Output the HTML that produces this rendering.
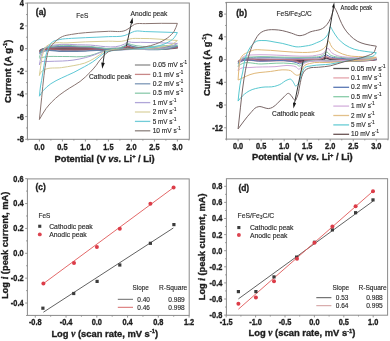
<!DOCTYPE html>
<html><head><meta charset="utf-8"><title>Cyclic voltammetry figure</title>
<style>html,body{margin:0;padding:0;background:#fff;width:390px;height:341px;overflow:hidden}svg{display:block;font-family:"Liberation Sans",sans-serif}text{filter:grayscale(1)}</style>
</head><body>
<svg width="390" height="341" viewBox="0 0 390 341">
<rect width="390" height="341" fill="#fff"/>
<path d="M39.4,50.83C40.17,50.37 40.89,49.82 41.7,49.47C43.11,48.85 44.76,48.77 46.3,48.56C48.58,48.25 50.9,48.31 53.2,48.22C63.92,47.78 74.67,48.23 85.4,48.22C98.43,48.2 111.92,51.37 124.5,48.11C125.58,47.83 126.64,47.26 127.72,47.2C128.93,47.13 130.17,47.67 131.4,47.88C146.5,50.46 162.07,47.88 177.4,47.88C174.33,48.18 171.27,48.54 168.2,48.79C155.98,49.76 143.67,48.95 131.4,49.01C122.97,49.06 114.42,47.83 106.1,49.13C105.02,49.29 103.96,49.64 102.88,49.69C101.66,49.75 100.43,49.44 99.2,49.35C94.62,49.03 90,49.44 85.4,49.47C77.73,49.51 70.07,49.38 62.4,49.47C55.5,49.55 48.17,47.64 41.7,49.92C40.93,50.19 40.17,50.53 39.4,50.83" fill="none" stroke="#5e5a5e" stroke-width="1.35" stroke-linejoin="round"/>
<path d="M39.4,51.96C40.17,51.21 40.83,50.27 41.7,49.69C43,48.84 44.74,48.64 46.3,48.33C48.55,47.89 50.9,48 53.2,47.88C63.91,47.3 74.67,47.91 85.4,47.88C98.43,47.85 112.41,52.32 124.5,47.65C125.58,47.24 126.63,46.37 127.72,46.29C128.92,46.21 130.17,47.08 131.4,47.43C146.11,51.59 162.07,47.43 177.4,47.43C174.33,47.8 171.27,48.25 168.2,48.56C156.01,49.79 143.67,48.85 131.4,49.01C122.97,49.12 114.25,47.32 106.1,49.35C105.02,49.62 103.97,50.18 102.88,50.26C101.67,50.35 100.43,49.84 99.2,49.69C94.64,49.16 90,49.87 85.4,49.92C77.73,50.01 70.07,49.91 62.4,50.03C55.5,50.15 47.75,47.47 41.7,50.6C40.92,51.01 40.17,51.51 39.4,51.96" fill="none" stroke="#a85c68" stroke-width="1.35" stroke-linejoin="round"/>
<path d="M39.4,53.66C40.17,52.53 40.75,51.19 41.7,50.26C42.93,49.06 44.67,48.23 46.3,47.65C48.44,46.89 50.9,47.08 53.2,46.86C63.88,45.85 74.67,46.9 85.4,46.86C98.43,46.81 113,52.37 124.5,46.52C125.59,45.97 126.61,44.81 127.72,44.7C128.9,44.59 130.17,45.65 131.4,46.07C145.86,50.97 162.07,46.22 177.4,46.29C174.33,47.05 171.29,47.95 168.2,48.56C156.22,50.93 143.67,48.89 131.4,49.13C122.97,49.29 113.95,46.79 106.1,49.69C105.02,50.1 103.99,50.92 102.88,51.05C101.69,51.2 100.43,50.54 99.2,50.37C94.66,49.76 90,50.9 85.4,51.05C77.74,51.32 70.06,51.11 62.4,51.28C55.5,51.43 47.41,48.33 41.7,51.96C40.91,52.46 40.17,53.1 39.4,53.66" fill="none" stroke="#6884aa" stroke-width="1.35" stroke-linejoin="round"/>
<path d="M39.4,57.63C39.86,56.12 40.11,54.51 40.78,53.1C41.57,51.44 42.62,49.64 44,48.56C45.79,47.16 48.58,47.08 50.9,46.52C62.01,43.81 73.9,46.41 85.4,46.29C98.43,46.16 113.63,52.56 124.5,45.73C125.6,45.04 126.55,43.64 127.72,43.46C128.86,43.28 130.17,44.24 131.4,44.59C146.11,48.77 162.07,44.97 177.4,45.16C174.33,46.1 171.3,47.22 168.2,47.99C156.36,50.94 143.66,48.61 131.4,49.13C123.73,49.45 115.98,49.11 108.4,50.26C106.86,50.49 105.31,50.69 103.8,51.05C102.24,51.44 100.73,52.03 99.2,52.53C96.13,53.53 93.11,54.81 90,55.59C81.14,57.82 71.6,56.21 62.4,56.5C56.27,56.69 49.99,55.86 44,57.06C42.46,57.38 40.93,57.82 39.4,58.2" fill="none" stroke="#80c4a4" stroke-width="1.0" stroke-linejoin="round"/>
<path d="M39.4,65C39.86,62.55 40.15,60.04 40.78,57.63C41.39,55.32 41.82,52.79 43.08,50.83C44.21,49.07 45.84,47.23 47.68,46.29C49.29,45.48 51.35,45.48 53.2,45.16C63.75,43.31 74.67,45.09 85.4,44.93C98.44,44.74 113.21,50.21 124.5,44.02C125.75,43.34 126.84,41.94 128.18,41.76C129.19,41.62 130.32,42.18 131.4,42.32C134.43,42.72 137.53,42.3 140.6,42.32C152.87,42.4 165.13,43.08 177.4,43.46C175.1,44.59 172.89,46.03 170.5,46.86C166.88,48.12 162.85,48.12 159,48.56C149.87,49.6 140.59,49.03 131.4,49.47C123.73,49.83 116.03,49.97 108.4,50.83C106.87,51 105.3,51.05 103.8,51.4C102.5,51.69 101.24,52.19 99.98,52.64C98.16,53.29 96.41,54.13 94.6,54.8C91.59,55.9 88.5,56.82 85.4,57.63C81.32,58.7 77.16,59.55 72.98,60.13C69.48,60.61 65.93,60.81 62.4,61.03C57.27,61.36 52.11,61.05 46.99,61.49C44.92,61.67 42.08,60.85 40.78,62.17C40.12,62.83 39.86,64.06 39.4,65" fill="none" stroke="#ac9ed4" stroke-width="1.0" stroke-linejoin="round"/>
<path d="M39.4,75.55C39.86,72.22 40.25,68.89 40.78,65.57C41.44,61.4 41.66,57.04 43.08,53.1C43.92,50.75 44.59,47.93 46.3,46.29C47.8,44.86 50.22,44.14 52.28,43.46C56.86,41.95 62.1,43.12 67,42.89C73.14,42.61 79.26,42.14 85.4,41.87C93.06,41.53 100.73,41.43 108.4,41.19C114.07,41.01 120.02,42.19 125.42,40.62C126.98,40.17 128.46,39.33 130.02,38.92C133.4,38.04 137.07,38.54 140.6,38.47C152.87,38.21 165.13,39.83 177.4,40.51C175.87,41.68 174.47,43.1 172.8,44.02C170.71,45.18 168.24,45.69 165.9,46.29C162.16,47.25 158.25,47.55 154.4,47.99C146.78,48.87 139.06,48.69 131.4,49.13C123.73,49.56 115.82,48.71 108.4,50.6C106.86,50.99 105.2,51.24 103.8,51.96C102.82,52.47 101.96,53.25 101.04,53.89C98.91,55.36 96.82,56.88 94.6,58.2C91.45,60.07 88.15,61.85 84.71,63.08C81.25,64.31 77.52,64.85 73.9,65.57C69.79,66.39 65.63,66.98 61.48,67.61C55.67,68.5 48.93,67 44,69.99C42.88,70.67 41.56,71.35 40.78,72.37C40.1,73.26 39.86,74.49 39.4,75.55" fill="none" stroke="#d6cc94" stroke-width="1.0" stroke-linejoin="round"/>
<path d="M39.4,96.19C39.78,92.79 40.01,89.36 40.55,85.98C40.85,84.08 41.27,82.2 41.61,80.31C42.49,75.41 43.07,70.46 44,65.57C44.88,60.97 45.31,56.17 46.99,51.85C48.35,48.36 49.52,43.89 52.42,41.87C54.27,40.58 56.98,40.17 59.32,39.6C63.3,38.64 67.5,38.67 71.6,38.35C76.19,38 80.8,37.89 85.4,37.67C93.07,37.31 100.74,37.13 108.4,36.65C113.92,36.31 119.76,37.14 124.96,35.41C126.68,34.83 128.33,33.96 130.02,33.25C131.55,32.6 133.05,31.75 134.62,31.32C137.96,30.42 141.67,31.47 145.2,31.55C155.94,31.81 166.67,32.23 177.4,32.57C176.33,34.31 175.5,36.28 174.18,37.79C172.15,40.11 169.14,41.7 166.36,43.12C162.28,45.21 157.53,46.11 153.02,47.09C145.98,48.61 138.61,48.5 131.4,49.13C125.27,49.66 119.06,49.6 113,50.6C110.69,50.98 108.2,50.97 106.1,51.96C105.3,52.34 104.55,52.84 103.8,53.32C102.34,54.27 101.04,55.44 99.66,56.5C97.2,58.38 94.87,60.45 92.3,62.17C89.87,63.79 87.26,65.16 84.71,66.59C81.15,68.59 77.56,70.56 73.9,72.37C69.83,74.4 65.55,76.02 61.48,78.04C57.9,79.83 54.13,81.41 50.9,83.71C48.07,85.74 45.29,88.06 43.08,90.74C41.7,92.42 40.63,94.37 39.4,96.19" fill="none" stroke="#5ec8d6" stroke-width="1.0" stroke-linejoin="round"/>
<path d="M39.4,119.55C40.17,112.14 40.93,104.73 41.7,97.32C42.46,89.99 43.05,82.63 44,75.32C44.67,70.17 45.25,64.99 46.3,59.9C46.96,56.7 47.26,53.29 48.6,50.37C49.9,47.56 51.94,44.9 54.12,42.66C56.48,40.23 59.34,37.92 62.4,36.54C65.21,35.27 68.51,34.97 71.6,34.39C76.15,33.53 80.79,33.14 85.4,32.68C93.04,31.93 100.73,31.8 108.4,31.32C114.23,30.96 120.75,32.7 125.88,30.19C127.31,29.49 128.66,28.49 130.02,27.58C131.59,26.53 132.97,25.05 134.62,24.29C137.72,22.87 141.67,23.79 145.2,23.61C155.92,23.08 166.67,23.46 177.4,23.39C176.33,25.99 175.68,28.89 174.18,31.21C172.54,33.74 170.14,35.92 167.74,37.79C165.38,39.62 162.64,41.05 159.92,42.32C156.98,43.7 153.85,44.75 150.72,45.61C147.12,46.6 143.37,47.07 139.68,47.65C133.89,48.57 128.01,48.91 122.2,49.69C117.59,50.31 112.26,49.45 108.4,51.74C106.54,52.84 104.91,54.56 103.34,56.16C101.85,57.67 100.49,59.34 99.2,61.03C98.14,62.42 97.26,63.95 96.21,65.34C94.32,67.83 92.17,70.12 90,72.37C86.9,75.59 83.66,78.75 80.11,81.45C76.73,84.01 72.85,85.9 69.3,88.25C65.88,90.52 62.36,92.71 59.18,95.28C54.33,99.21 49.69,103.66 45.98,108.66C43.47,112.04 41.59,115.92 39.4,119.55" fill="none" stroke="#8a7672" stroke-width="1.0" stroke-linejoin="round"/>
<rect x="27.4" y="3" width="161.9" height="136.3" fill="none" stroke="#8a8a8a" stroke-width="1"/>
<path d="M39.4,139.3v2.2M62.4,139.3v2.2M85.4,139.3v2.2M108.4,139.3v2.2M131.4,139.3v2.2M154.4,139.3v2.2M177.4,139.3v2.2" stroke="#8a8a8a" stroke-width="0.9"/>
<path d="M27.9,139.3v1.3M50.9,139.3v1.3M73.9,139.3v1.3M96.9,139.3v1.3M119.9,139.3v1.3M142.9,139.3v1.3M165.9,139.3v1.3M188.9,139.3v1.3" stroke="#8a8a8a" stroke-width="0.9"/>
<path d="M27.4,139.28h-2.2M27.4,116.6h-2.2M27.4,93.92h-2.2M27.4,71.24h-2.2M27.4,48.56h-2.2M27.4,25.88h-2.2M27.4,3.2h-2.2" stroke="#8a8a8a" stroke-width="0.9"/>
<path d="M27.4,127.94h-1.3M27.4,105.26h-1.3M27.4,82.58h-1.3M27.4,59.9h-1.3M27.4,37.22h-1.3M27.4,14.54h-1.3" stroke="#8a8a8a" stroke-width="0.9"/>
<text transform="translate(39.4,149.6) scale(0.87,1)" font-size="8.5" font-weight="bold" stroke="#1e1e1e" stroke-width="0.35" text-anchor="middle" fill="#1e1e1e">0.0</text>
<text transform="translate(62.4,149.6) scale(0.87,1)" font-size="8.5" font-weight="bold" stroke="#1e1e1e" stroke-width="0.35" text-anchor="middle" fill="#1e1e1e">0.5</text>
<text transform="translate(85.4,149.6) scale(0.87,1)" font-size="8.5" font-weight="bold" stroke="#1e1e1e" stroke-width="0.35" text-anchor="middle" fill="#1e1e1e">1.0</text>
<text transform="translate(108.4,149.6) scale(0.87,1)" font-size="8.5" font-weight="bold" stroke="#1e1e1e" stroke-width="0.35" text-anchor="middle" fill="#1e1e1e">1.5</text>
<text transform="translate(131.4,149.6) scale(0.87,1)" font-size="8.5" font-weight="bold" stroke="#1e1e1e" stroke-width="0.35" text-anchor="middle" fill="#1e1e1e">2.0</text>
<text transform="translate(154.4,149.6) scale(0.87,1)" font-size="8.5" font-weight="bold" stroke="#1e1e1e" stroke-width="0.35" text-anchor="middle" fill="#1e1e1e">2.5</text>
<text transform="translate(177.4,149.6) scale(0.87,1)" font-size="8.5" font-weight="bold" stroke="#1e1e1e" stroke-width="0.35" text-anchor="middle" fill="#1e1e1e">3.0</text>
<text transform="translate(23.8,142.18) scale(0.87,1)" font-size="8.5" font-weight="bold" stroke="#1e1e1e" stroke-width="0.35" text-anchor="end" fill="#1e1e1e">-8</text>
<text transform="translate(23.8,119.5) scale(0.87,1)" font-size="8.5" font-weight="bold" stroke="#1e1e1e" stroke-width="0.35" text-anchor="end" fill="#1e1e1e">-6</text>
<text transform="translate(23.8,96.82) scale(0.87,1)" font-size="8.5" font-weight="bold" stroke="#1e1e1e" stroke-width="0.35" text-anchor="end" fill="#1e1e1e">-4</text>
<text transform="translate(23.8,74.14) scale(0.87,1)" font-size="8.5" font-weight="bold" stroke="#1e1e1e" stroke-width="0.35" text-anchor="end" fill="#1e1e1e">-2</text>
<text transform="translate(23.8,51.46) scale(0.87,1)" font-size="8.5" font-weight="bold" stroke="#1e1e1e" stroke-width="0.35" text-anchor="end" fill="#1e1e1e">0</text>
<text transform="translate(23.8,28.78) scale(0.87,1)" font-size="8.5" font-weight="bold" stroke="#1e1e1e" stroke-width="0.35" text-anchor="end" fill="#1e1e1e">2</text>
<text transform="translate(23.8,6.1) scale(0.87,1)" font-size="8.5" font-weight="bold" stroke="#1e1e1e" stroke-width="0.35" text-anchor="end" fill="#1e1e1e">4</text>
<text x="54.6" y="161.6" font-size="9.3" font-weight="bold" stroke="#1e1e1e" stroke-width="0.35" fill="#1e1e1e" textLength="100" lengthAdjust="spacingAndGlyphs">Potential (V <tspan font-style="italic">vs.</tspan> Li<tspan font-size="5.7" dy="-3.6">+</tspan><tspan dy="3.6"> / Li)</tspan></text>
<text transform="translate(11,102.9) rotate(-90)" font-size="9.3" font-weight="bold" stroke="#1e1e1e" stroke-width="0.35" fill="#1e1e1e" textLength="63.3" lengthAdjust="spacingAndGlyphs">Current (A g<tspan font-size="5.7" dy="-3.8">-1</tspan><tspan dy="3.8">)</tspan></text>
<text x="35.8" y="14.7" font-size="8.9" font-weight="bold" stroke="#1e1e1e" stroke-width="0.35" fill="#1e1e1e" textLength="10.4" lengthAdjust="spacingAndGlyphs">(a)</text>
<text x="76.3" y="17.6" font-size="7.0" stroke="#2a2a2a" stroke-width="0.15" fill="#2a2a2a" textLength="12" lengthAdjust="spacingAndGlyphs">FeS</text>
<text x="130.6" y="15.9" font-size="7.0" stroke="#2a2a2a" stroke-width="0.15" fill="#2a2a2a" textLength="36.8" lengthAdjust="spacingAndGlyphs">Anodic peak</text>
<text x="88.9" y="79.2" font-size="7.0" stroke="#2a2a2a" stroke-width="0.15" fill="#2a2a2a" textLength="42.6" lengthAdjust="spacingAndGlyphs">Cathodic peak</text>
<path d="M126.4,46L131.58,22.29" stroke="#333" stroke-width="1.0"/>
<path d="M132.6,17.6L133.07,23.43L129.74,22.71Z" fill="#151515"/>
<path d="M104.8,50.6L102.94,63.65" stroke="#333" stroke-width="1.0"/>
<path d="M102.2,68.8L101.27,62.61L104.83,63.11Z" fill="#151515"/>
<path d="M134.9,65H150.3" stroke="#8c8c8c" stroke-width="1.3"/>
<text x="152.7" y="67.1" font-size="6.9" stroke="#2a2a2a" stroke-width="0.15" fill="#2a2a2a" textLength="34.4" lengthAdjust="spacingAndGlyphs">0.05 mV s<tspan font-size="4.6" dy="-3.0">-1</tspan></text>
<path d="M134.9,74.4H150.3" stroke="#c88888" stroke-width="1.3"/>
<text x="152.7" y="76.5" font-size="6.9" stroke="#2a2a2a" stroke-width="0.15" fill="#2a2a2a" textLength="30.6" lengthAdjust="spacingAndGlyphs">0.1 mV s<tspan font-size="4.6" dy="-3.0">-1</tspan></text>
<path d="M134.9,83.8H150.3" stroke="#7e98b8" stroke-width="1.3"/>
<text x="152.7" y="85.9" font-size="6.9" stroke="#2a2a2a" stroke-width="0.15" fill="#2a2a2a" textLength="30.6" lengthAdjust="spacingAndGlyphs">0.2 mV s<tspan font-size="4.6" dy="-3.0">-1</tspan></text>
<path d="M134.9,93.2H150.3" stroke="#8ccaac" stroke-width="1.3"/>
<text x="152.7" y="95.3" font-size="6.9" stroke="#2a2a2a" stroke-width="0.15" fill="#2a2a2a" textLength="30.6" lengthAdjust="spacingAndGlyphs">0.5 mV s<tspan font-size="4.6" dy="-3.0">-1</tspan></text>
<path d="M134.9,102.6H150.3" stroke="#b0a6d8" stroke-width="1.3"/>
<text x="152.7" y="104.7" font-size="6.9" stroke="#2a2a2a" stroke-width="0.15" fill="#2a2a2a" textLength="23.6" lengthAdjust="spacingAndGlyphs">1 mV s<tspan font-size="4.6" dy="-3.0">-1</tspan></text>
<path d="M134.9,112H150.3" stroke="#dcd4a4" stroke-width="1.3"/>
<text x="152.7" y="114.1" font-size="6.9" stroke="#2a2a2a" stroke-width="0.15" fill="#2a2a2a" textLength="23.6" lengthAdjust="spacingAndGlyphs">2 mV s<tspan font-size="4.6" dy="-3.0">-1</tspan></text>
<path d="M134.9,121.4H150.3" stroke="#72ccd8" stroke-width="1.3"/>
<text x="152.7" y="123.5" font-size="6.9" stroke="#2a2a2a" stroke-width="0.15" fill="#2a2a2a" textLength="23.6" lengthAdjust="spacingAndGlyphs">5 mV s<tspan font-size="4.6" dy="-3.0">-1</tspan></text>
<path d="M134.9,130.8H150.3" stroke="#8e8480" stroke-width="1.3"/>
<text x="152.7" y="132.9" font-size="6.9" stroke="#2a2a2a" stroke-width="0.15" fill="#2a2a2a" textLength="28" lengthAdjust="spacingAndGlyphs">10 mV s<tspan font-size="4.6" dy="-3.0">-1</tspan></text>
<path d="M238.1,61.83C238.71,61.3 239.27,60.62 239.94,60.24C241.36,59.44 243.32,59.89 245.01,59.79C248.84,59.54 252.69,59.74 256.53,59.73C274.96,59.66 293.39,60.33 311.81,59.84C314.88,59.76 318.01,60.07 321.03,59.56C322.89,59.25 324.71,58.01 326.55,58.14C327.63,58.22 328.69,58.77 329.78,58.99C332.19,59.48 334.69,59.4 337.15,59.56C350.17,60.41 363.26,59.64 376.31,59.67C374.77,59.83 373.24,59.99 371.7,60.13C357.94,61.36 344.06,60.31 330.24,60.36C323.33,60.38 316.42,60.2 309.51,60.41C307.97,60.46 306.42,60.37 304.9,60.58C303.82,60.73 302.76,61.09 301.68,61.26C300.91,61.39 300.14,61.57 299.37,61.55C298.45,61.53 297.54,61.14 296.61,60.98C294.79,60.68 292.92,60.61 291.08,60.47C281.13,59.69 271.12,60.27 261.13,60.36C254.22,60.41 246.68,57.96 240.4,60.7C239.63,61.04 238.87,61.45 238.1,61.83" fill="none" stroke="#4a3048" stroke-width="1.4" stroke-linejoin="round"/>
<path d="M238.1,62.4C238.71,61.74 239.24,60.92 239.94,60.41C241.3,59.45 243.31,59.54 245.01,59.28C248.79,58.68 252.69,59.19 256.53,59.16C274.96,59.02 293.4,59.95 311.81,59.28C314.88,59.16 318.05,59.53 321.03,58.88C322.91,58.46 324.72,56.83 326.55,57C327.63,57.11 328.69,57.84 329.78,58.14C332.15,58.79 334.69,58.75 337.15,58.99C350.13,60.27 363.26,59.18 376.31,59.28C374.77,59.52 373.24,59.79 371.7,60.01C358.04,62 344.06,60.57 330.24,60.7C323.33,60.76 316.4,60.39 309.51,60.81C307.97,60.9 306.4,60.85 304.9,61.15C303.81,61.37 302.77,61.9 301.68,62.12C300.92,62.26 300.13,62.45 299.37,62.4C298.43,62.34 297.54,61.77 296.61,61.55C294.81,61.12 292.93,61.1 291.08,60.92C281.15,59.98 271.12,60.83 261.13,60.92C254.22,60.99 246.68,58.53 240.4,61.26C239.63,61.6 238.87,62.02 238.1,62.4" fill="none" stroke="#b87888" stroke-width="1.4" stroke-linejoin="round"/>
<path d="M238.1,63.54C238.87,62.4 239.41,60.98 240.4,60.13C241.61,59.11 243.44,58.75 245.01,58.31C248.66,57.28 252.69,57.98 256.53,57.86C274.94,57.25 293.41,58.83 311.81,57.86C314.88,57.69 318.1,58.09 321.03,57.29C322.93,56.77 324.77,54.66 326.55,54.96C327.65,55.14 328.66,56.26 329.78,56.72C332.06,57.66 334.69,57.61 337.15,57.97C350.05,59.85 363.26,58.57 376.31,58.88C374.77,59.11 373.24,59.35 371.7,59.56C358.01,61.42 344.06,60.57 330.24,60.81C323.33,60.93 316.36,60.2 309.51,61.04C307.97,61.23 306.36,61.24 304.9,61.72C303.78,62.08 302.8,62.88 301.68,63.25C300.93,63.5 300.12,63.85 299.37,63.82C298.43,63.79 297.55,63.01 296.61,62.69C294.83,62.06 292.93,61.75 291.08,61.38C281.32,59.44 271.12,61.15 261.13,61.26C254.22,61.34 246.01,57.95 240.4,61.72C239.61,62.25 238.87,62.93 238.1,63.54" fill="none" stroke="#5a74b4" stroke-width="1.0" stroke-linejoin="round"/>
<path d="M238.1,66.95C238.56,65.24 238.66,63.34 239.48,61.83C240.25,60.44 241.44,59.01 242.71,58.14C245.1,56.48 248.84,57.29 251.92,57C262.61,55.99 273.42,57.18 284.17,57.17C293.38,57.17 302.63,57.65 311.81,57C314.89,56.78 318.25,57.25 321.03,56.15C323.2,55.29 325.15,51.55 327.02,52.06C328.14,52.36 329.04,54.25 330.24,55.01C332.21,56.27 334.81,56.53 337.15,57C340.9,57.77 344.83,57.63 348.67,57.86C357.87,58.4 367.1,58.31 376.31,58.54C374.77,58.88 373.24,59.25 371.7,59.56C358.17,62.28 344.06,60.07 330.24,60.41C323.33,60.59 316.26,59.6 309.51,60.98C307.96,61.3 306.28,61.42 304.9,62.12C303.71,62.73 302.81,63.9 301.68,64.67C300.93,65.18 300.14,66.05 299.37,66.1C298.45,66.15 297.58,64.81 296.61,64.39C294.93,63.67 292.93,63.77 291.08,63.54C281.2,62.28 271.11,63.74 261.13,63.99C254.22,64.17 245.59,60.44 240.4,64.67C239.59,65.33 238.87,66.19 238.1,66.95" fill="none" stroke="#80c8a0" stroke-width="1.0" stroke-linejoin="round"/>
<path d="M238.1,70.93C238.56,68.65 238.77,66.29 239.48,64.11C240.26,61.73 240.89,58.79 242.71,57.29C243.91,56.28 245.71,55.68 247.31,55.3C248.79,54.95 250.38,55.05 251.92,54.96C262.65,54.28 273.43,55.1 284.17,55.47C289.39,55.65 294.61,56.16 299.83,56.15C305.36,56.14 311.04,56.45 316.42,55.3C318.75,54.8 321.38,54.54 323.33,53.31C325.18,52.15 326.45,48.13 327.94,48.31C329.2,48.46 330.16,51.55 331.62,52.74C333.2,54.02 335.24,54.86 337.15,55.58C340.74,56.94 344.82,56.85 348.67,57.29C357.82,58.32 367.1,57.86 376.31,58.14C374.77,58.52 373.25,58.96 371.7,59.28C365.7,60.51 359.42,59.87 353.27,60.13C345.6,60.45 337.92,60.74 330.24,60.98C323.33,61.2 316.17,59.86 309.51,61.55C307.96,61.94 306.22,62.14 304.9,62.97C303.62,63.77 302.74,65.23 301.68,66.38C300.75,67.38 299.89,69.39 298.91,69.39C298.03,69.39 297.18,67.55 296.15,66.95C294.66,66.09 292.72,65.98 290.99,65.7C285.75,64.83 280.3,66.4 274.96,66.66C266.64,67.08 258.27,66.73 249.99,67.52C246.79,67.82 242.92,66.87 240.4,68.65C239.56,69.25 238.87,70.17 238.1,70.93" fill="none" stroke="#d0a8d8" stroke-width="1.0" stroke-linejoin="round"/>
<path d="M238.1,80.02C238.41,76.04 238.5,72.04 239.02,68.08C239.47,64.65 239.15,60.76 240.86,57.86C241.59,56.63 242.51,55.33 243.63,54.45C244.68,53.62 246.07,53.19 247.31,52.63C249.65,51.56 252.01,50.26 254.5,49.84C256.64,49.48 258.92,49.84 261.13,49.9C264.3,49.98 267.46,50.17 270.63,50.35C278.22,50.78 285.79,51.85 293.38,52.12C299.52,52.33 305.72,52.8 311.81,52.12C314.12,51.85 316.54,51.78 318.72,51.04C320.32,50.49 321.99,49.79 323.33,48.76C324.37,47.97 325.31,46.97 326.09,45.92C327.19,44.46 327.74,40.99 328.58,40.98C329.43,40.96 330.13,44.39 331.16,45.92C331.98,47.13 332.86,48.36 333.93,49.33C335.12,50.43 336.64,51.22 338.07,52C341.03,53.62 344.35,54.72 347.61,55.53C352.39,56.71 357.52,56.41 362.49,56.72C367.09,57 371.7,57.14 376.31,57.34C374.77,57.89 373.26,58.54 371.7,58.99C367.28,60.27 362.49,59.99 357.88,60.41C348.68,61.26 339.46,61.83 330.24,62.4C323.33,62.83 316.08,61.52 309.51,63.54C307.95,64.01 306.14,64.31 304.9,65.24C303.38,66.39 302.74,68.64 301.68,70.36C300.74,71.87 300.42,74.29 298.91,74.9C298.26,75.17 297.33,75.32 296.61,75.19C295.74,75.03 294.98,74.29 294.21,73.77C292.91,72.87 292,71.28 290.62,70.64C289.26,70.01 287.55,70.06 286.01,69.9C280.82,69.38 275.56,70.85 270.35,71.49C263.54,72.34 256.39,72.26 249.99,74.62C247.82,75.42 245.74,76.5 243.63,77.46C241.78,78.3 239.94,79.17 238.1,80.02" fill="none" stroke="#e0b878" stroke-width="1.0" stroke-linejoin="round"/>
<path d="M238.1,101.05C238.71,95.74 239.06,90.39 239.94,85.13C240.68,80.75 241.78,76.42 242.71,72.06C243.92,66.38 244.25,60.38 246.39,55.01C247.35,52.62 248.38,50.18 249.8,48.02C250.82,46.47 251.94,44.91 253.3,43.65C254.35,42.67 255.5,41.61 256.8,41.09C258.11,40.56 259.69,40.61 261.13,40.52C262.76,40.42 264.4,40.46 266.02,40.58C268.71,40.77 271.36,41.48 274.03,41.94C276.77,42.41 279.53,42.77 282.24,43.36C284.43,43.85 286.59,44.52 288.78,45.07C291.18,45.68 293.57,46.59 296.01,46.83C299.04,47.12 302.18,46.54 305.22,46.09C307.43,45.76 309.7,45.48 311.81,44.78C313.39,44.27 314.87,43.42 316.42,42.8C317.64,42.3 318.94,41.96 320.1,41.37C322.28,40.29 324.44,38.82 326,37C327.26,35.53 328.28,33.7 329,31.88C329.64,30.25 329.56,26.81 330.24,26.71C330.91,26.62 332.06,29.68 333,31.15C334.61,33.64 336.05,36.31 337.98,38.53C340.01,40.88 342.42,43.05 344.98,44.78C347.78,46.67 350.99,48.14 354.2,49.22C357.58,50.36 361.24,50.74 364.79,51.32C368.61,51.94 372.47,52.27 376.31,52.74C375.54,53.69 374.9,54.84 374.01,55.58C371.73,57.47 367.86,56.6 364.79,57.17C360.94,57.9 357.12,58.78 353.27,59.56C345.61,61.12 337.98,63.04 330.24,64.11C324.14,64.95 317.84,64.59 311.81,65.81C309.49,66.28 306.59,66.17 304.9,67.52C303.23,68.84 302.64,71.64 301.68,73.77C300.19,77.06 300.34,81.33 297.99,84C297.34,84.74 296.44,85.98 295.78,86.04C294.81,86.14 294.28,83.47 293.38,82.29C292.55,81.19 291.77,79.49 290.62,79.17C289.6,78.88 288.18,79.62 287.03,80.02C284.36,80.94 282.37,83.41 279.79,84.57C278.1,85.32 276.29,85.92 274.5,86.38C270.45,87.42 266.04,86.58 261.92,87.29C257.58,88.05 252.96,88.85 249.16,90.93C245.91,92.7 242.9,95.32 240.4,98.15C239.59,99.07 238.87,100.08 238.1,101.05" fill="none" stroke="#58c8d0" stroke-width="1.0" stroke-linejoin="round"/>
<path d="M238.1,128.89C238.87,121.88 239.61,114.87 240.4,107.87C241.15,101.23 241.8,94.59 242.71,87.97C243.52,82.03 244.32,76.07 245.47,70.19C246.4,65.48 247.37,60.76 248.7,56.15C249.71,52.62 250.72,49.05 252.2,45.69C253.19,43.44 254.33,41.21 255.61,39.1C256.67,37.34 257.64,35.38 259.11,33.99C260.34,32.82 261.88,31.83 263.44,31.15C264.96,30.48 266.67,30.15 268.32,29.89C270.49,29.56 272.75,29.63 274.96,29.72C277.39,29.83 279.84,30.13 282.24,30.58C285.34,31.16 288.36,32.25 291.4,33.13C294.27,33.96 297.08,35.81 299.97,35.69C301.61,35.62 303.32,35.11 304.9,34.55C306.67,33.93 308.21,32.66 309.97,32C311.74,31.33 313.64,31 315.5,30.58C317.03,30.22 318.65,30.15 320.1,29.61C321.86,28.96 323.58,27.93 324.99,26.71C326.62,25.3 327.87,23.35 329,21.48C330.27,19.37 331.17,17 331.99,14.66C332.57,12.99 332.84,11.21 333.46,9.55C333.72,8.88 333.97,7.7 334.29,7.56C334.76,7.36 335.47,9.24 336,10.12C337.66,12.88 338.36,16.15 339.68,19.1C341.04,22.12 342.29,25.24 344.06,28.02C345.74,30.66 347.74,33.2 349.96,35.41C352.13,37.56 354.53,39.67 357.19,41.15C359.6,42.49 362.36,43.32 365.02,44.1C368.68,45.17 372.55,45.47 376.31,46.15C375.39,48.46 375.05,51.15 373.55,52.74C372.01,54.37 369.31,54.98 367.1,55.87C365,56.71 362.82,57.34 360.65,57.97C358.21,58.68 355.74,59.27 353.27,59.84C350.22,60.56 347.11,61.03 344.06,61.78C339.4,62.91 334.94,64.95 330.24,65.87C326.46,66.61 322.56,66.8 318.72,67.23C315.35,67.61 311.68,67.04 308.59,68.31C307.31,68.84 305.88,69.42 304.9,70.36C303.84,71.38 303.25,72.96 302.6,74.34C301.01,77.66 300.72,81.52 299.83,85.13C298.86,89.1 298.77,93.38 297.07,97.07C296.53,98.23 296.04,100.56 295.23,100.48C294.7,100.42 293.94,99.39 293.38,98.77C292.47,97.76 292.03,96.33 291.08,95.36C290.33,94.6 289.36,93.55 288.5,93.37C287.03,93.07 285.5,95.58 284.08,96.78C281.81,98.7 279.93,101.05 277.72,103.03C276.08,104.51 274.59,106.34 272.65,107.3C271.33,107.95 269.78,108.56 268.32,108.6C266.86,108.65 265.37,107.95 263.9,107.58C262.56,107.24 261.23,106.49 259.89,106.5C258.77,106.51 257.56,106.87 256.53,107.3C254.12,108.28 252.52,110.87 250.68,112.81C248.27,115.35 246.15,118.17 244,120.94C241.97,123.54 240.07,126.24 238.1,128.89" fill="none" stroke="#786666" stroke-width="1.0" stroke-linejoin="round"/>
<rect x="226.4" y="2.4" width="161.8" height="136.7" fill="none" stroke="#8a8a8a" stroke-width="1"/>
<path d="M238.1,139.1v2.2M261.13,139.1v2.2M284.17,139.1v2.2M307.2,139.1v2.2M330.24,139.1v2.2M353.27,139.1v2.2M376.31,139.1v2.2" stroke="#8a8a8a" stroke-width="0.9"/>
<path d="M226.58,139.1v1.3M249.62,139.1v1.3M272.65,139.1v1.3M295.69,139.1v1.3M318.72,139.1v1.3M341.76,139.1v1.3M364.79,139.1v1.3M387.83,139.1v1.3" stroke="#8a8a8a" stroke-width="0.9"/>
<path d="M226.4,127.76h-2.2M226.4,105.02h-2.2M226.4,82.29h-2.2M226.4,59.56h-2.2M226.4,36.83h-2.2M226.4,14.1h-2.2" stroke="#8a8a8a" stroke-width="0.9"/>
<path d="M226.4,139.12h-1.3M226.4,116.39h-1.3M226.4,93.66h-1.3M226.4,70.93h-1.3M226.4,48.19h-1.3M226.4,25.46h-1.3M226.4,2.73h-1.3" stroke="#8a8a8a" stroke-width="0.9"/>
<text transform="translate(238.1,149.4) scale(0.87,1)" font-size="8.5" font-weight="bold" stroke="#1e1e1e" stroke-width="0.35" text-anchor="middle" fill="#1e1e1e">0.0</text>
<text transform="translate(261.13,149.4) scale(0.87,1)" font-size="8.5" font-weight="bold" stroke="#1e1e1e" stroke-width="0.35" text-anchor="middle" fill="#1e1e1e">0.5</text>
<text transform="translate(284.17,149.4) scale(0.87,1)" font-size="8.5" font-weight="bold" stroke="#1e1e1e" stroke-width="0.35" text-anchor="middle" fill="#1e1e1e">1.0</text>
<text transform="translate(307.2,149.4) scale(0.87,1)" font-size="8.5" font-weight="bold" stroke="#1e1e1e" stroke-width="0.35" text-anchor="middle" fill="#1e1e1e">1.5</text>
<text transform="translate(330.24,149.4) scale(0.87,1)" font-size="8.5" font-weight="bold" stroke="#1e1e1e" stroke-width="0.35" text-anchor="middle" fill="#1e1e1e">2.0</text>
<text transform="translate(353.27,149.4) scale(0.87,1)" font-size="8.5" font-weight="bold" stroke="#1e1e1e" stroke-width="0.35" text-anchor="middle" fill="#1e1e1e">2.5</text>
<text transform="translate(376.31,149.4) scale(0.87,1)" font-size="8.5" font-weight="bold" stroke="#1e1e1e" stroke-width="0.35" text-anchor="middle" fill="#1e1e1e">3.0</text>
<text transform="translate(222.9,130.66) scale(0.87,1)" font-size="8.5" font-weight="bold" stroke="#1e1e1e" stroke-width="0.35" text-anchor="end" fill="#1e1e1e">-12</text>
<text transform="translate(222.9,107.92) scale(0.87,1)" font-size="8.5" font-weight="bold" stroke="#1e1e1e" stroke-width="0.35" text-anchor="end" fill="#1e1e1e">-8</text>
<text transform="translate(222.9,85.19) scale(0.87,1)" font-size="8.5" font-weight="bold" stroke="#1e1e1e" stroke-width="0.35" text-anchor="end" fill="#1e1e1e">-4</text>
<text transform="translate(222.9,62.46) scale(0.87,1)" font-size="8.5" font-weight="bold" stroke="#1e1e1e" stroke-width="0.35" text-anchor="end" fill="#1e1e1e">0</text>
<text transform="translate(222.9,39.73) scale(0.87,1)" font-size="8.5" font-weight="bold" stroke="#1e1e1e" stroke-width="0.35" text-anchor="end" fill="#1e1e1e">4</text>
<text transform="translate(222.9,17) scale(0.87,1)" font-size="8.5" font-weight="bold" stroke="#1e1e1e" stroke-width="0.35" text-anchor="end" fill="#1e1e1e">8</text>
<text x="251.9" y="160.4" font-size="9.3" font-weight="bold" stroke="#1e1e1e" stroke-width="0.35" fill="#1e1e1e" textLength="100.8" lengthAdjust="spacingAndGlyphs">Potential (V <tspan font-style="italic">vs.</tspan> Li<tspan font-size="5.7" dy="-3.6">+</tspan><tspan dy="3.6"> / Li)</tspan></text>
<text transform="translate(210.2,95.9) rotate(-90)" font-size="9.3" font-weight="bold" stroke="#1e1e1e" stroke-width="0.35" fill="#1e1e1e" textLength="62.5" lengthAdjust="spacingAndGlyphs">Current (A g<tspan font-size="5.7" dy="-3.8">-1</tspan><tspan dy="3.8">)</tspan></text>
<text x="236.3" y="15.5" font-size="8.9" font-weight="bold" stroke="#1e1e1e" stroke-width="0.35" fill="#1e1e1e" textLength="10.8" lengthAdjust="spacingAndGlyphs">(b)</text>
<text x="276.6" y="15.6" font-size="6.5" stroke="#2a2a2a" stroke-width="0.15" fill="#2a2a2a" textLength="35.2" lengthAdjust="spacingAndGlyphs">FeS/Fe<tspan font-size="4.8" dy="1.6">3</tspan><tspan dy="-1.6">C/C</tspan></text>
<text x="340.6" y="9.8" font-size="6.3" stroke="#2a2a2a" stroke-width="0.15" fill="#2a2a2a" textLength="31.6" lengthAdjust="spacingAndGlyphs">Anodic peak</text>
<text x="272.1" y="116" font-size="7.0" stroke="#2a2a2a" stroke-width="0.15" fill="#2a2a2a" textLength="42.4" lengthAdjust="spacingAndGlyphs">Cathodic peak</text>
<path d="M324.6,59.5L333.5,6.74" stroke="#333" stroke-width="1.0"/>
<path d="M334.2,2.6L334.75,7.76L331.99,7.3Z" fill="#151515"/>
<path d="M303.3,60.2L294.4,103.7" stroke="#333" stroke-width="1.0"/>
<path d="M293.4,108.6L292.99,102.6L296.13,103.24Z" fill="#151515"/>
<path d="M333.3,68.5H349.1" stroke="#505050" stroke-width="1.3"/>
<text x="351" y="70.6" font-size="6.9" stroke="#2a2a2a" stroke-width="0.15" fill="#2a2a2a" textLength="34.6" lengthAdjust="spacingAndGlyphs">0.05 mV s<tspan font-size="4.6" dy="-3.0">-1</tspan></text>
<path d="M333.3,77.9H349.1" stroke="#e4a4ac" stroke-width="1.3"/>
<text x="351" y="80" font-size="6.9" stroke="#2a2a2a" stroke-width="0.15" fill="#2a2a2a" textLength="30.4" lengthAdjust="spacingAndGlyphs">0.1 mV s<tspan font-size="4.6" dy="-3.0">-1</tspan></text>
<path d="M333.3,87.3H349.1" stroke="#5a78b4" stroke-width="1.3"/>
<text x="351" y="89.4" font-size="6.9" stroke="#2a2a2a" stroke-width="0.15" fill="#2a2a2a" textLength="30.4" lengthAdjust="spacingAndGlyphs">0.2 mV s<tspan font-size="4.6" dy="-3.0">-1</tspan></text>
<path d="M333.3,96.7H349.1" stroke="#88cca8" stroke-width="1.3"/>
<text x="351" y="98.8" font-size="6.9" stroke="#2a2a2a" stroke-width="0.15" fill="#2a2a2a" textLength="30.4" lengthAdjust="spacingAndGlyphs">0.5 mV s<tspan font-size="4.6" dy="-3.0">-1</tspan></text>
<path d="M333.3,106.1H349.1" stroke="#d4b0dc" stroke-width="1.3"/>
<text x="351" y="108.2" font-size="6.9" stroke="#2a2a2a" stroke-width="0.15" fill="#2a2a2a" textLength="23.6" lengthAdjust="spacingAndGlyphs">1 mV s<tspan font-size="4.6" dy="-3.0">-1</tspan></text>
<path d="M333.3,115.5H349.1" stroke="#e2c08a" stroke-width="1.3"/>
<text x="351" y="117.6" font-size="6.9" stroke="#2a2a2a" stroke-width="0.15" fill="#2a2a2a" textLength="23.6" lengthAdjust="spacingAndGlyphs">2 mV s<tspan font-size="4.6" dy="-3.0">-1</tspan></text>
<path d="M333.3,124.9H349.1" stroke="#68ccd4" stroke-width="1.3"/>
<text x="351" y="127" font-size="6.9" stroke="#2a2a2a" stroke-width="0.15" fill="#2a2a2a" textLength="23.6" lengthAdjust="spacingAndGlyphs">5 mV s<tspan font-size="4.6" dy="-3.0">-1</tspan></text>
<path d="M333.3,134.3H349.1" stroke="#6a5454" stroke-width="1.3"/>
<text x="351" y="136.4" font-size="6.9" stroke="#2a2a2a" stroke-width="0.15" fill="#2a2a2a" textLength="28" lengthAdjust="spacingAndGlyphs">10 mV s<tspan font-size="4.6" dy="-3.0">-1</tspan></text>
<rect x="27.4" y="178.9" width="161.8" height="136.5" fill="none" stroke="#8a8a8a" stroke-width="1"/>
<path d="M35.28,315.4v2.2M66.04,315.4v2.2M96.8,315.4v2.2M127.56,315.4v2.2M158.32,315.4v2.2M189.08,315.4v2.2" stroke="#8a8a8a" stroke-width="0.9"/>
<path d="M50.66,315.4v1.3M81.42,315.4v1.3M112.18,315.4v1.3M142.94,315.4v1.3M173.7,315.4v1.3" stroke="#8a8a8a" stroke-width="0.9"/>
<path d="M27.4,303.06h-2.2M27.4,278.18h-2.2M27.4,253.3h-2.2M27.4,228.42h-2.2M27.4,203.54h-2.2M27.4,178.66h-2.2" stroke="#8a8a8a" stroke-width="0.9"/>
<path d="M27.4,315.5h-1.3M27.4,290.62h-1.3M27.4,265.74h-1.3M27.4,240.86h-1.3M27.4,215.98h-1.3M27.4,191.1h-1.3" stroke="#8a8a8a" stroke-width="0.9"/>
<text transform="translate(35.28,325.4) scale(0.87,1)" font-size="8.5" font-weight="bold" stroke="#1e1e1e" stroke-width="0.35" text-anchor="middle" fill="#1e1e1e">-0.8</text>
<text transform="translate(66.04,325.4) scale(0.87,1)" font-size="8.5" font-weight="bold" stroke="#1e1e1e" stroke-width="0.35" text-anchor="middle" fill="#1e1e1e">-0.4</text>
<text transform="translate(96.8,325.4) scale(0.87,1)" font-size="8.5" font-weight="bold" stroke="#1e1e1e" stroke-width="0.35" text-anchor="middle" fill="#1e1e1e">0.0</text>
<text transform="translate(127.56,325.4) scale(0.87,1)" font-size="8.5" font-weight="bold" stroke="#1e1e1e" stroke-width="0.35" text-anchor="middle" fill="#1e1e1e">0.4</text>
<text transform="translate(158.32,325.4) scale(0.87,1)" font-size="8.5" font-weight="bold" stroke="#1e1e1e" stroke-width="0.35" text-anchor="middle" fill="#1e1e1e">0.8</text>
<text transform="translate(189.08,325.4) scale(0.87,1)" font-size="8.5" font-weight="bold" stroke="#1e1e1e" stroke-width="0.35" text-anchor="middle" fill="#1e1e1e">1.2</text>
<text transform="translate(23.6,305.96) scale(0.87,1)" font-size="8.5" font-weight="bold" stroke="#1e1e1e" stroke-width="0.35" text-anchor="end" fill="#1e1e1e">-0.4</text>
<text transform="translate(23.6,281.08) scale(0.87,1)" font-size="8.5" font-weight="bold" stroke="#1e1e1e" stroke-width="0.35" text-anchor="end" fill="#1e1e1e">-0.2</text>
<text transform="translate(23.6,256.2) scale(0.87,1)" font-size="8.5" font-weight="bold" stroke="#1e1e1e" stroke-width="0.35" text-anchor="end" fill="#1e1e1e">0.0</text>
<text transform="translate(23.6,231.32) scale(0.87,1)" font-size="8.5" font-weight="bold" stroke="#1e1e1e" stroke-width="0.35" text-anchor="end" fill="#1e1e1e">0.2</text>
<text transform="translate(23.6,206.44) scale(0.87,1)" font-size="8.5" font-weight="bold" stroke="#1e1e1e" stroke-width="0.35" text-anchor="end" fill="#1e1e1e">0.4</text>
<text transform="translate(23.6,181.56) scale(0.87,1)" font-size="8.5" font-weight="bold" stroke="#1e1e1e" stroke-width="0.35" text-anchor="end" fill="#1e1e1e">0.6</text>
<text x="51.4" y="336.8" font-size="9.3" font-weight="bold" stroke="#1e1e1e" stroke-width="0.35" fill="#1e1e1e" textLength="106.7" lengthAdjust="spacingAndGlyphs">Log <tspan font-family="Liberation Serif" font-style="italic">v</tspan> (scan rate, mV s<tspan font-size="5.7" dy="-3.8">-1</tspan><tspan dy="3.8">)</tspan></text>
<text transform="translate(7.5,299.1) rotate(-90)" font-size="9.3" font-weight="bold" stroke="#1e1e1e" stroke-width="0.35" fill="#1e1e1e" textLength="107.6" lengthAdjust="spacingAndGlyphs">Log <tspan font-family="Liberation Serif" font-style="italic">i</tspan> (peak current, mA)</text>
<text x="35.6" y="190" font-size="8.9" font-weight="bold" stroke="#1e1e1e" stroke-width="0.35" fill="#1e1e1e" textLength="10.2" lengthAdjust="spacingAndGlyphs">(c)</text>
<text x="38.6" y="217.5" font-size="7.0" stroke="#2a2a2a" stroke-width="0.15" fill="#2a2a2a" textLength="11.8" lengthAdjust="spacingAndGlyphs">FeS</text>
<rect x="38.2" y="224.7" width="3.1" height="3.1" fill="#3c3c3c"/>
<text x="49.2" y="228.6" font-size="7.0" stroke="#2a2a2a" stroke-width="0.15" fill="#2a2a2a" textLength="43.6" lengthAdjust="spacingAndGlyphs">Cathodic peak</text>
<circle cx="39.8" cy="234.4" r="1.95" fill="#dc4450"/>
<text x="49.2" y="236.5" font-size="7.0" stroke="#2a2a2a" stroke-width="0.15" fill="#2a2a2a" textLength="37.6" lengthAdjust="spacingAndGlyphs">Anodic peak</text>
<path d="M43.4,312.2L173.3,228" stroke="#505050" stroke-width="0.9"/>
<path d="M43.4,283.6L173.6,187.5" stroke="#e05858" stroke-width="0.9"/>
<rect x="41.3" y="306.6" width="3.2" height="3.2" fill="#3c3c3c"/>
<rect x="72.1" y="291.9" width="3.2" height="3.2" fill="#3c3c3c"/>
<rect x="95.5" y="279.8" width="3.2" height="3.2" fill="#3c3c3c"/>
<rect x="118.2" y="263.4" width="3.2" height="3.2" fill="#3c3c3c"/>
<rect x="148.8" y="241.7" width="3.2" height="3.2" fill="#3c3c3c"/>
<rect x="172.3" y="223" width="3.2" height="3.2" fill="#3c3c3c"/>
<circle cx="43.4" cy="283.6" r="2.0" fill="#dc3c48"/>
<circle cx="74" cy="263.1" r="2.0" fill="#dc3c48"/>
<circle cx="96.9" cy="247" r="2.0" fill="#dc3c48"/>
<circle cx="119.8" cy="228.8" r="2.0" fill="#dc3c48"/>
<circle cx="150.4" cy="203.7" r="2.0" fill="#dc3c48"/>
<circle cx="173.6" cy="187.5" r="2.0" fill="#dc3c48"/>
<text x="132.5" y="290.1" font-size="7.0" stroke="#2a2a2a" stroke-width="0.15" fill="#2a2a2a" textLength="16.2" lengthAdjust="spacingAndGlyphs">Slope</text>
<text x="158.9" y="290.1" font-size="7.0" stroke="#2a2a2a" stroke-width="0.15" fill="#2a2a2a" textLength="28.4" lengthAdjust="spacingAndGlyphs">R-Square</text>
<path d="M117.8,299.3H133" stroke="#6a6a6a" stroke-width="1"/>
<path d="M117.8,307.3H133" stroke="#d86a6a" stroke-width="1"/>
<text x="137.3" y="301.5" font-size="7.0" stroke="#2a2a2a" stroke-width="0.15" fill="#2a2a2a" textLength="12.6" lengthAdjust="spacingAndGlyphs">0.40</text>
<text x="168.3" y="301.5" font-size="7.0" stroke="#2a2a2a" stroke-width="0.15" fill="#2a2a2a" textLength="16.4" lengthAdjust="spacingAndGlyphs">0.989</text>
<text x="137.3" y="309.5" font-size="7.0" stroke="#2a2a2a" stroke-width="0.15" fill="#2a2a2a" textLength="12.6" lengthAdjust="spacingAndGlyphs">0.46</text>
<text x="168.3" y="309.5" font-size="7.0" stroke="#2a2a2a" stroke-width="0.15" fill="#2a2a2a" textLength="16.4" lengthAdjust="spacingAndGlyphs">0.998</text>
<rect x="226.4" y="178.7" width="161.2" height="136.5" fill="none" stroke="#8a8a8a" stroke-width="1"/>
<path d="M226.2,315.2v2.2M255.6,315.2v2.2M285,315.2v2.2M314.4,315.2v2.2M343.8,315.2v2.2M373.2,315.2v2.2" stroke="#8a8a8a" stroke-width="0.9"/>
<path d="M240.9,315.2v1.3M270.3,315.2v1.3M299.7,315.2v1.3M329.1,315.2v1.3M358.5,315.2v1.3" stroke="#8a8a8a" stroke-width="0.9"/>
<path d="M226.4,315.1h-2.2M226.4,299h-2.2M226.4,282.9h-2.2M226.4,266.8h-2.2M226.4,250.7h-2.2M226.4,234.6h-2.2M226.4,218.5h-2.2M226.4,202.4h-2.2M226.4,186.3h-2.2" stroke="#8a8a8a" stroke-width="0.9"/>
<path d="M226.4,307.05h-1.3M226.4,290.95h-1.3M226.4,274.85h-1.3M226.4,258.75h-1.3M226.4,242.65h-1.3M226.4,226.55h-1.3M226.4,210.45h-1.3M226.4,194.35h-1.3" stroke="#8a8a8a" stroke-width="0.9"/>
<text transform="translate(226.2,325) scale(0.87,1)" font-size="8.5" font-weight="bold" stroke="#1e1e1e" stroke-width="0.35" text-anchor="middle" fill="#1e1e1e">-1.5</text>
<text transform="translate(255.6,325) scale(0.87,1)" font-size="8.5" font-weight="bold" stroke="#1e1e1e" stroke-width="0.35" text-anchor="middle" fill="#1e1e1e">-1.0</text>
<text transform="translate(285,325) scale(0.87,1)" font-size="8.5" font-weight="bold" stroke="#1e1e1e" stroke-width="0.35" text-anchor="middle" fill="#1e1e1e">-0.5</text>
<text transform="translate(314.4,325) scale(0.87,1)" font-size="8.5" font-weight="bold" stroke="#1e1e1e" stroke-width="0.35" text-anchor="middle" fill="#1e1e1e">0.0</text>
<text transform="translate(343.8,325) scale(0.87,1)" font-size="8.5" font-weight="bold" stroke="#1e1e1e" stroke-width="0.35" text-anchor="middle" fill="#1e1e1e">0.5</text>
<text transform="translate(373.2,325) scale(0.87,1)" font-size="8.5" font-weight="bold" stroke="#1e1e1e" stroke-width="0.35" text-anchor="middle" fill="#1e1e1e">1.0</text>
<text transform="translate(222.3,318) scale(0.87,1)" font-size="8.5" font-weight="bold" stroke="#1e1e1e" stroke-width="0.35" text-anchor="end" fill="#1e1e1e">-0.8</text>
<text transform="translate(222.3,301.9) scale(0.87,1)" font-size="8.5" font-weight="bold" stroke="#1e1e1e" stroke-width="0.35" text-anchor="end" fill="#1e1e1e">-0.6</text>
<text transform="translate(222.3,285.8) scale(0.87,1)" font-size="8.5" font-weight="bold" stroke="#1e1e1e" stroke-width="0.35" text-anchor="end" fill="#1e1e1e">-0.4</text>
<text transform="translate(222.3,269.7) scale(0.87,1)" font-size="8.5" font-weight="bold" stroke="#1e1e1e" stroke-width="0.35" text-anchor="end" fill="#1e1e1e">-0.2</text>
<text transform="translate(222.3,253.6) scale(0.87,1)" font-size="8.5" font-weight="bold" stroke="#1e1e1e" stroke-width="0.35" text-anchor="end" fill="#1e1e1e">0.0</text>
<text transform="translate(222.3,237.5) scale(0.87,1)" font-size="8.5" font-weight="bold" stroke="#1e1e1e" stroke-width="0.35" text-anchor="end" fill="#1e1e1e">0.2</text>
<text transform="translate(222.3,221.4) scale(0.87,1)" font-size="8.5" font-weight="bold" stroke="#1e1e1e" stroke-width="0.35" text-anchor="end" fill="#1e1e1e">0.4</text>
<text transform="translate(222.3,205.3) scale(0.87,1)" font-size="8.5" font-weight="bold" stroke="#1e1e1e" stroke-width="0.35" text-anchor="end" fill="#1e1e1e">0.6</text>
<text transform="translate(222.3,189.2) scale(0.87,1)" font-size="8.5" font-weight="bold" stroke="#1e1e1e" stroke-width="0.35" text-anchor="end" fill="#1e1e1e">0.8</text>
<text x="248.5" y="336.4" font-size="9.3" font-weight="bold" stroke="#1e1e1e" stroke-width="0.35" fill="#1e1e1e" textLength="106.9" lengthAdjust="spacingAndGlyphs">Log <tspan font-family="Liberation Serif" font-style="italic">v</tspan> (scan rate, mV s<tspan font-size="5.7" dy="-3.8">-1</tspan><tspan dy="3.8">)</tspan></text>
<text transform="translate(205.3,300.3) rotate(-90)" font-size="9.3" font-weight="bold" stroke="#1e1e1e" stroke-width="0.35" fill="#1e1e1e" textLength="107" lengthAdjust="spacingAndGlyphs">Log <tspan font-family="Liberation Serif" font-style="italic">i</tspan> (peak current, mA)</text>
<text x="238.4" y="190.6" font-size="8.9" font-weight="bold" stroke="#1e1e1e" stroke-width="0.35" fill="#1e1e1e" textLength="10.8" lengthAdjust="spacingAndGlyphs">(d)</text>
<text x="237.6" y="217.5" font-size="7.0" stroke="#2a2a2a" stroke-width="0.15" fill="#2a2a2a" textLength="36.6" lengthAdjust="spacingAndGlyphs">FeS/Fe<tspan font-size="5" dy="1.6">3</tspan><tspan dy="-1.6">C/C</tspan></text>
<rect x="237.3" y="226" width="3.1" height="3.1" fill="#3c3c3c"/>
<text x="249.9" y="229.6" font-size="7.0" stroke="#2a2a2a" stroke-width="0.15" fill="#2a2a2a" textLength="43.6" lengthAdjust="spacingAndGlyphs">Cathodic peak</text>
<circle cx="238.9" cy="235" r="1.95" fill="#dc4450"/>
<text x="249.9" y="237.5" font-size="7.0" stroke="#2a2a2a" stroke-width="0.15" fill="#2a2a2a" textLength="37.6" lengthAdjust="spacingAndGlyphs">Anodic peak</text>
<path d="M238.4,298.9L373,201.2" stroke="#505050" stroke-width="0.9"/>
<path d="M238.4,309.2L373,191.2" stroke="#e05858" stroke-width="0.9"/>
<rect x="236.8" y="290" width="3.2" height="3.2" fill="#3c3c3c"/>
<rect x="254.3" y="290" width="3.2" height="3.2" fill="#3c3c3c"/>
<rect x="272.4" y="275.3" width="3.2" height="3.2" fill="#3c3c3c"/>
<rect x="295" y="255.5" width="3.2" height="3.2" fill="#3c3c3c"/>
<rect x="312.9" y="240.7" width="3.2" height="3.2" fill="#3c3c3c"/>
<rect x="330.8" y="228.3" width="3.2" height="3.2" fill="#3c3c3c"/>
<rect x="354" y="211.1" width="3.2" height="3.2" fill="#3c3c3c"/>
<rect x="371.4" y="198.3" width="3.2" height="3.2" fill="#3c3c3c"/>
<circle cx="238.4" cy="303.7" r="2.0" fill="#dc3c48"/>
<circle cx="255.9" cy="297.6" r="2.0" fill="#dc3c48"/>
<circle cx="274" cy="281.3" r="2.0" fill="#dc3c48"/>
<circle cx="297" cy="258.7" r="2.0" fill="#dc3c48"/>
<circle cx="314.5" cy="242.8" r="2.0" fill="#dc3c48"/>
<circle cx="332.4" cy="226.6" r="2.0" fill="#dc3c48"/>
<circle cx="355.6" cy="206.2" r="2.0" fill="#dc3c48"/>
<circle cx="373" cy="191.2" r="2.0" fill="#dc3c48"/>
<text x="332.6" y="289.5" font-size="7.0" stroke="#2a2a2a" stroke-width="0.15" fill="#2a2a2a" textLength="16.6" lengthAdjust="spacingAndGlyphs">Slope</text>
<text x="358.5" y="289.5" font-size="7.0" stroke="#2a2a2a" stroke-width="0.15" fill="#2a2a2a" textLength="28.2" lengthAdjust="spacingAndGlyphs">R-Square</text>
<path d="M316.3,297.7H331.4" stroke="#555" stroke-width="1"/>
<path d="M316.3,305.7H331.4" stroke="#d09a9a" stroke-width="1"/>
<text x="335.8" y="299.7" font-size="7.0" stroke="#2a2a2a" stroke-width="0.15" fill="#2a2a2a" textLength="12.6" lengthAdjust="spacingAndGlyphs">0.53</text>
<text x="366.2" y="299.5" font-size="7.0" stroke="#2a2a2a" stroke-width="0.15" fill="#2a2a2a" textLength="16.6" lengthAdjust="spacingAndGlyphs">0.988</text>
<text x="335.8" y="307.7" font-size="7.0" stroke="#2a2a2a" stroke-width="0.15" fill="#2a2a2a" textLength="12.6" lengthAdjust="spacingAndGlyphs">0.64</text>
<text x="366.2" y="307.9" font-size="7.0" stroke="#2a2a2a" stroke-width="0.15" fill="#2a2a2a" textLength="16.6" lengthAdjust="spacingAndGlyphs">0.995</text>
</svg>
</body></html>
